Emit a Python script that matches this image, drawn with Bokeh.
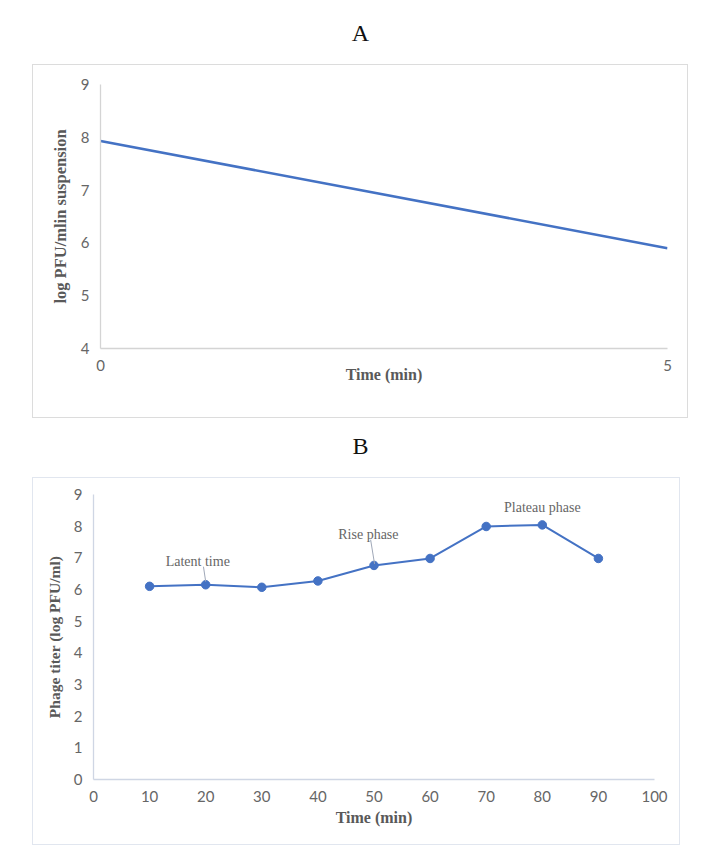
from bokeh.plotting import figure
from bokeh.layouts import column, row
from bokeh.models import Range1d, FixedTicker, Label, Spacer
from bokeh.core.properties import value
from bokeh.embed import file_html
from bokeh.resources import INLINE

# ---- data ----
# Panel A
a_time = [0, 5]
a_log_pfu = [7.93, 5.9]
a_xticks = [0, 5]
a_yticks = [4, 5, 6, 7, 8, 9]

# Panel B
b_time = [10, 20, 30, 40, 50, 60, 70, 80, 90]
b_titer = [6.1, 6.15, 6.07, 6.27, 6.76, 6.98, 7.99, 8.04, 6.98]
b_xticks = [0, 10, 20, 30, 40, 50, 60, 70, 80, 90, 100]
b_yticks = [0, 1, 2, 3, 4, 5, 6, 7, 8, 9]

# annotations (label, x, y) and leader lines
ann_text = ["Latent  time", "Rise phase", "Plateau phase"]
ann_x = [18.9, 49.0, 80.0]
ann_y = [6.9, 7.73, 8.58]
lead_x0 = [19.6, 49.4]
lead_y0 = [6.72, 7.57]
lead_x1 = [20.0, 50.1]
lead_y1 = [6.25, 6.81]

BLUE = "#4472C4"
SERIF = "Liberation Serif"
TICKFONT = "Lato"
TICKCOL = "#666666"
TITLECOL = "#595959"


def title_fig(letter, h, ycenter):
    f = figure(width=714, height=h, x_range=Range1d(0, 714), y_range=Range1d(0, h),
               x_axis_type=None, y_axis_type=None, toolbar_location=None,
               output_backend="svg", min_border=0)
    f.outline_line_color = None
    f.grid.visible = False
    f.add_layout(Label(x=360, y=ycenter, text=letter, text_font=SERIF,
                       text_font_size="24px", text_color="#111111",
                       text_align="center", text_baseline="middle"))
    return f


def style_axes(p, xticks, yticks, axis_col, xlabel, ylabel, xlab_size, ylab_size, xstandoff):
    p.grid.visible = False
    p.outline_line_color = None
    p.xaxis.ticker = FixedTicker(ticks=xticks)
    p.yaxis.ticker = FixedTicker(ticks=yticks)
    for ax in (p.xaxis[0], p.yaxis[0]):
        ax.axis_line_color = axis_col
        ax.axis_line_width = 1.3
        ax.major_tick_line_color = None
        ax.minor_tick_line_color = None
        ax.major_tick_out = 0
        ax.major_tick_in = 0
        ax.major_label_text_font = TICKFONT
        ax.major_label_text_font_size = "15px"
        ax.major_label_text_color = TICKCOL
        ax.axis_label_text_font = SERIF
        ax.axis_label_text_font_style = "bold"
        ax.axis_label_text_color = TITLECOL
    p.xaxis.axis_label = xlabel
    p.yaxis.axis_label = ylabel
    p.xaxis.major_label_standoff = 11
    p.yaxis.major_label_standoff = 11
    p.xaxis.axis_label_text_font_size = xlab_size
    p.yaxis.axis_label_text_font_size = ylab_size
    p.xaxis.axis_label_standoff = xstandoff
    p.yaxis.axis_label_standoff = 8


# ---- Panel A ----
pA = figure(width=656, height=354, x_range=Range1d(0, 5), y_range=Range1d(4, 9),
            toolbar_location=None, output_backend="svg",
            min_border_left=67, min_border_right=22, min_border_top=19, min_border_bottom=71)
pA.styles = {"border": "1px solid #dcdcdc", "box-sizing": "border-box"}
pA.line(a_time, a_log_pfu, line_color=BLUE, line_width=2.6)
style_axes(pA, a_xticks, a_yticks, "#d4d4d4", "Time (min)", "log PFU/mlin suspension",
           "16px", "16.5px", -8)

# ---- Panel B ----
pB = figure(width=648, height=368, x_range=Range1d(0, 100), y_range=Range1d(0, 9),
            toolbar_location=None, output_backend="svg",
            min_border_left=60, min_border_right=27, min_border_top=16, min_border_bottom=67)
pB.styles = {"border": "1px solid #e1e6ef", "box-sizing": "border-box"}
pB.line(b_time, b_titer, line_color=BLUE, line_width=2)
pB.scatter(b_time, b_titer, size=8.5, fill_color=BLUE, line_color=BLUE)
pB.segment(lead_x0, lead_y0, lead_x1, lead_y1, line_color="#a0a8b8", line_width=1)
pB.text(ann_x, ann_y, text=ann_text, text_font=value(SERIF), text_font_size="14px",
        text_color="#666666", text_align="center", text_baseline="middle")
style_axes(pB, b_xticks, b_yticks, "#cfd6e4", "Time (min)", "Phage titer (log PFU/ml)",
           "16px", "15.5px", 4)

tA = title_fig("A", 56, 32)
tB = title_fig("B", 59, 32)

layout = column(Spacer(height=8), tA, row(Spacer(width=32), pA), tB, row(Spacer(width=32), pB))

open("out.html", "w").write(file_html(layout, INLINE))
